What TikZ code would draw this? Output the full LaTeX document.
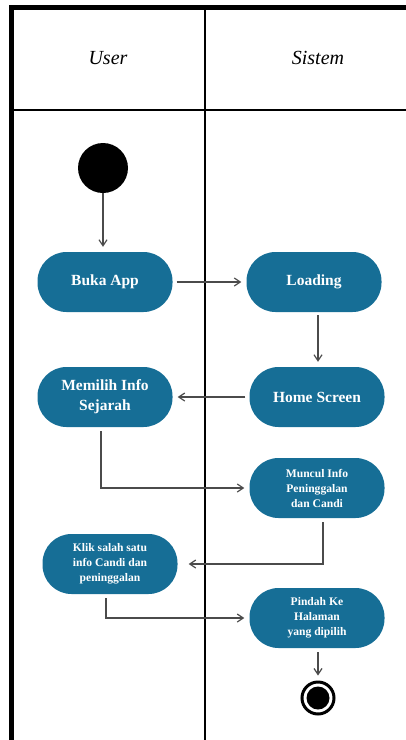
\documentclass[tikz,border=0pt]{standalone}
\usepackage{xcolor}
\usepackage{fontspec}
\setmainfont{Liberation Serif}
\usepackage{tikz}
\usetikzlibrary{positioning,arrows.meta}
\definecolor{LaneBlue}{RGB}{22,110,150}
\definecolor{FlowGray}{RGB}{75,75,75}

\begin{document}
\begin{tikzpicture}[
  x=1pt, y=-1pt,
  activity/.style={fill=LaneBlue, text=white, rounded corners=29pt, minimum width=135pt, minimum height=60pt, align=center, inner sep=2pt, font=\bfseries\fontsize{15.5}{20}\selectfont},
  smallactivity/.style={activity, font=\bfseries\fontsize{11.6}{15}\selectfont},
  flow/.style={-{Straight Barb[length=6pt,width=8pt]}, line width=1.2pt, color=FlowGray, shorten >=5pt, shorten <=4pt},
  lane/.style={line width=1.6pt, color=black},
  header/.style={font=\itshape\fontsize{20}{24}\selectfont}
]
\useasboundingbox (0,0) rectangle (406,740);

% Swimlanes
\draw[line width=5pt] (11.5,740) -- (11.5,7.5) -- (406,7.5);
\draw[lane] (205,7.5) -- (205,740);
\draw[lane] (11.5,110) -- (406,110);
\node[header] (huser) at (108,58) {User};
\node[header] (hsistem) at (318,58) {Sistem};

% Start and end
\node[circle, fill=black, minimum size=50pt, inner sep=0pt] (start) at (103,168) {};
\node[circle, draw=black, line width=3pt, fill=white, minimum size=32pt, inner sep=0pt,
  path picture={\fill[black] (path picture bounding box.center) circle (11.5pt);}] (stop) at (318,698) {};

% User lane
\node[activity] (buka) at (105,282) {Buka App};
\node[activity] (memilih) at (105,397) {Memilih Info\\Sejarah};
\node[smallactivity] (klik) at (110,564) {Klik salah satu\\info Candi dan\\peninggalan};

% Sistem lane
\node[activity] (loading) at (314,282) {Loading};
\node[activity] (home) at (317,397) {Home Screen};
\node[smallactivity] (muncul) at (317,488) {Muncul Info\\Peninggalan\\dan Candi};
\node[smallactivity] (pindah) at (317,618) {Pindah Ke\\Halaman\\yang dipilih};

% Flows
\draw[flow, shorten <=0pt] (start) -- (start |- buka.north);
\draw[flow] (buka) -- (loading);
\draw[flow, shorten <=3pt] ([xshift=4pt]loading.south) -- ([xshift=1pt]home.north);
\draw[flow] (home) -- (memilih);
\draw[flow] ([xshift=-4pt]memilih.south) |- (muncul.west);
\draw[flow, shorten >=11pt] ([xshift=6pt]muncul.south) |- (klik.east);
\draw[flow] ([xshift=-4pt]klik.south) |- (pindah.west);
\draw[flow] ([xshift=1pt]pindah.south) -- (stop);
\end{tikzpicture}
\end{document}
